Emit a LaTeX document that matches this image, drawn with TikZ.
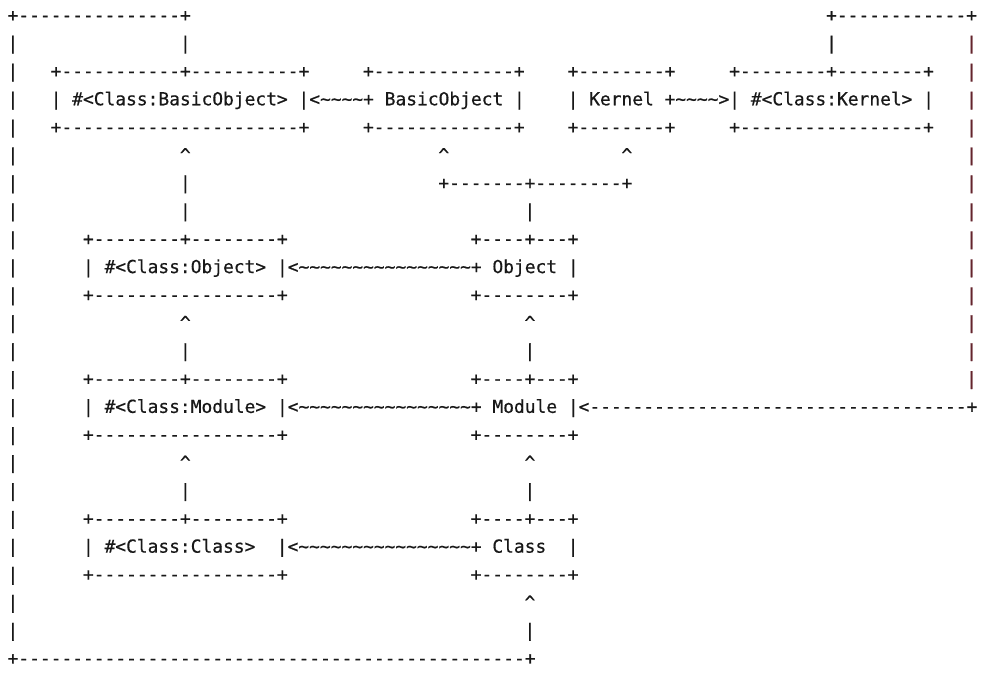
\documentclass[tikz,border=0pt]{standalone}
\usepackage{fontspec}
\setmonofont[FakeBold=0.5]{DejaVu Sans Mono}
\definecolor{ink}{RGB}{24,24,24}
\definecolor{rail}{RGB}{100,36,44}
\ExplSyntaxOn
\newcommand\rep[2]{\prg_replicate:nn{#1}{#2}}
\ExplSyntaxOff
\newcommand\wv{\textasciitilde}
\newcommand\up{\textasciicircum}
% one run of characters placed on the character grid: [style]{name}{row}{column}{text}
\newcommand\cell[5][]{\node[ch,#1] (#2) at ({7.6+10.77*(#4)},{21.4+27.96*(#3)}) {#5};}
\frenchspacing
\begin{document}
\begin{tikzpicture}[x=1pt,y=-1pt,
  ch/.style={anchor=base west,inner sep=0pt,outer sep=0pt,text=ink,
    font=\ttfamily\fontsize{17.9}{28}\selectfont},
  railbar/.style={text=rail}]
\fill[white] (0,0) rectangle (1006,675);
\useasboundingbox (0,0) rectangle (1006,675);

% outer loop: Class back up to #<Class:BasicObject>
\cell{loopTop}{0}{0}{+\rep{15}{-}+}
\cell{loopUp}{1}{16}{|}
\foreach \r in {1,...,22} {\cell{loopLeft\r}{\r}{0}{|}}
\cell{loopBottom}{23}{0}{+\rep{47}{-}+}

% right loop: Module up to #<Class:Kernel>
\cell{railTop}{0}{76}{+\rep{12}{-}+}
\cell{railUp}{1}{76}{|}
\foreach \r in {1,...,13} {\cell[railbar]{railRight\r}{\r}{89}{|}}

% BasicObject, Kernel and their singleton classes
\cell{boMetaTop}{2}{4}{+\rep{11}{-}+\rep{10}{-}+}
\cell{boTop}{2}{33}{+\rep{13}{-}+}
\cell{kTop}{2}{52}{+\rep{8}{-}+}
\cell{kMetaTop}{2}{67}{+\rep{8}{-}+\rep{8}{-}+}
\cell{boLine}{3}{4}{| \#<Class:BasicObject> |<\rep{4}{\wv}+ BasicObject |}
\cell{kLine}{3}{52}{| Kernel +\rep{4}{\wv}>| \#<Class:Kernel> |}
\cell{boMetaBot}{4}{4}{+\rep{22}{-}+}
\cell{boBot}{4}{33}{+\rep{13}{-}+}
\cell{kBot}{4}{52}{+\rep{8}{-}+}
\cell{kMetaBot}{4}{67}{+\rep{17}{-}+}

% links up from Object
\cell{boMetaArrow}{5}{16}{\up}
\cell{boArrow}{5}{40}{\up}
\cell{kArrow}{5}{57}{\up}
\cell{boMetaStemA}{6}{16}{|}
\cell{fork}{6}{40}{+\rep{7}{-}+\rep{8}{-}+}
\cell{boMetaStemB}{7}{16}{|}
\cell{oStem}{7}{48}{|}

% Object
\cell{oMetaTop}{8}{7}{+\rep{8}{-}+\rep{8}{-}+}
\cell{oTop}{8}{43}{+\rep{4}{-}+\rep{3}{-}+}
\cell{oLine}{9}{7}{| \#<Class:Object> |<\rep{16}{\wv}+ Object |}
\cell{oMetaBot}{10}{7}{+\rep{17}{-}+}
\cell{oBot}{10}{43}{+\rep{8}{-}+}
\cell{oMetaArrow}{11}{16}{\up}
\cell{oArrow}{11}{48}{\up}
\cell{oMetaStem}{12}{16}{|}
\cell{mStem}{12}{48}{|}

% Module
\cell{mMetaTop}{13}{7}{+\rep{8}{-}+\rep{8}{-}+}
\cell{mTop}{13}{43}{+\rep{4}{-}+\rep{3}{-}+}
\cell{mLine}{14}{7}{| \#<Class:Module> |<\rep{16}{\wv}+ Module |<\rep{35}{-}+}
\cell{mMetaBot}{15}{7}{+\rep{17}{-}+}
\cell{mBot}{15}{43}{+\rep{8}{-}+}
\cell{mMetaArrow}{16}{16}{\up}
\cell{mArrow}{16}{48}{\up}
\cell{mMetaStem}{17}{16}{|}
\cell{cStem}{17}{48}{|}

% Class
\cell{cMetaTop}{18}{7}{+\rep{8}{-}+\rep{8}{-}+}
\cell{cTop}{18}{43}{+\rep{4}{-}+\rep{3}{-}+}
\cell{cMeta}{19}{7}{| \#<Class:Class>}
\cell{cLink}{19}{25}{|<\rep{16}{\wv}+ Class}
\cell{cEdge}{19}{52}{|}
\cell{cMetaBot}{20}{7}{+\rep{17}{-}+}
\cell{cBot}{20}{43}{+\rep{8}{-}+}
\cell{cArrow}{21}{48}{\up}
\cell{cLoopStem}{22}{48}{|}
\end{tikzpicture}
\end{document}
